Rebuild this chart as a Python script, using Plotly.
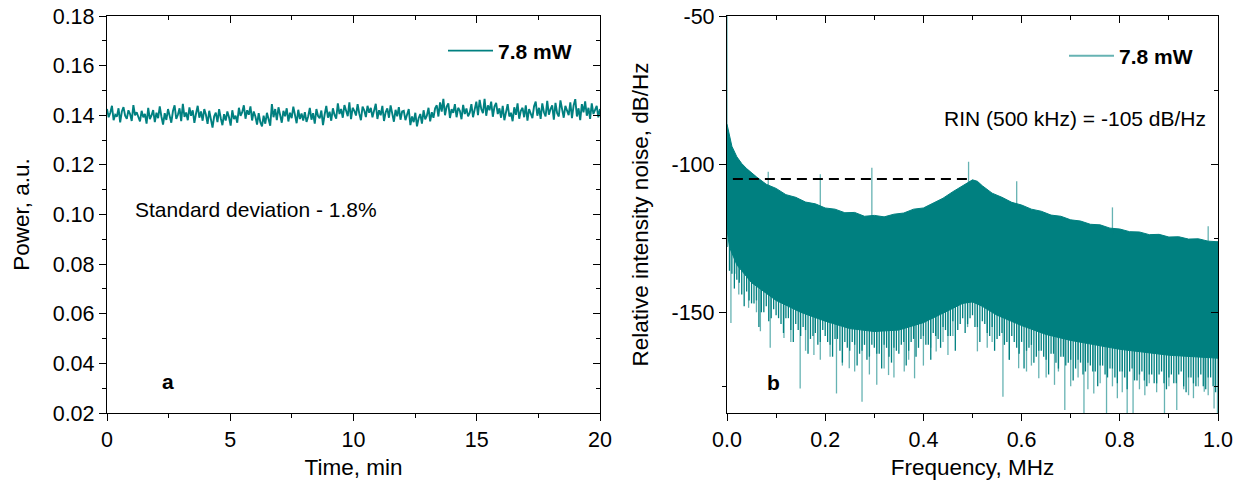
import numpy as np
import plotly.graph_objects as go

# ---------------- data ----------------
power_au = [
    0.1425, 0.1392, 0.1410, 0.1438, 0.1380, 0.1402, 0.1395, 0.1428, 0.1371, 0.1415, 0.1433, 0.1398, 0.1386, 0.1420, 0.1405, 0.1377, 0.1441, 0.1400, 0.1412, 0.1388,
    0.1375, 0.1418, 0.1392, 0.1405, 0.1366, 0.1430, 0.1384, 0.1399, 0.1421, 0.1372, 0.1410, 0.1388, 0.1436, 0.1395, 0.1362, 0.1408, 0.1381, 0.1425, 0.1393, 0.1370,
    0.1417, 0.1440, 0.1385, 0.1402, 0.1428, 0.1376, 0.1446, 0.1393, 0.1411, 0.1380, 0.1432, 0.1398, 0.1420, 0.1369, 0.1407, 0.1438, 0.1390, 0.1415, 0.1378, 0.1425,
    0.1402, 0.1365, 0.1418, 0.1384, 0.1350, 0.1396, 0.1410, 0.1372, 0.1425, 0.1388, 0.1360, 0.1404, 0.1379, 0.1415, 0.1392, 0.1358, 0.1420, 0.1385, 0.1398, 0.1370,
    0.1430, 0.1398, 0.1412, 0.1440, 0.1386, 0.1420, 0.1402, 0.1436, 0.1379, 0.1415, 0.1395, 0.1362, 0.1408, 0.1372, 0.1355, 0.1398, 0.1366, 0.1410, 0.1380, 0.1358,
    0.1445, 0.1392, 0.1425, 0.1380, 0.1432, 0.1405, 0.1370, 0.1418, 0.1396, 0.1428, 0.1375, 0.1410, 0.1388, 0.1435, 0.1399, 0.1368, 0.1422, 0.1385, 0.1407, 0.1379,
    0.1412, 0.1373, 0.1395, 0.1430, 0.1382, 0.1408, 0.1366, 0.1425, 0.1397, 0.1388, 0.1419, 0.1360, 0.1403, 0.1438, 0.1390, 0.1414, 0.1378, 0.1428, 0.1401, 0.1386,
    0.1448, 0.1405, 0.1425, 0.1390, 0.1441, 0.1412, 0.1396, 0.1452, 0.1384, 0.1430, 0.1418, 0.1399, 0.1445, 0.1407, 0.1380, 0.1435, 0.1420, 0.1393, 0.1438, 0.1410,
    0.1430, 0.1392, 0.1415, 0.1446, 0.1385, 0.1420, 0.1400, 0.1438, 0.1377, 0.1412, 0.1428, 0.1390, 0.1440, 0.1405, 0.1374, 0.1422, 0.1396, 0.1433, 0.1382, 0.1415,
    0.1418, 0.1380, 0.1402, 0.1425, 0.1360, 0.1395, 0.1372, 0.1410, 0.1355, 0.1388, 0.1405, 0.1366, 0.1420, 0.1384, 0.1398, 0.1430, 0.1375, 0.1412, 0.1390, 0.1428,
    0.1440, 0.1395, 0.1452, 0.1415, 0.1466, 0.1400, 0.1435, 0.1448, 0.1389, 0.1425, 0.1410, 0.1445, 0.1392, 0.1430, 0.1418, 0.1384, 0.1442, 0.1405, 0.1427, 0.1396,
    0.1410, 0.1445, 0.1392, 0.1430, 0.1455, 0.1400, 0.1462, 0.1425, 0.1408, 0.1466, 0.1398, 0.1440, 0.1420, 0.1455, 0.1394, 0.1435, 0.1450, 0.1405, 0.1428, 0.1390,
    0.1438, 0.1380, 0.1420, 0.1445, 0.1395, 0.1410, 0.1376, 0.1432, 0.1402, 0.1448, 0.1386, 0.1418, 0.1430, 0.1392, 0.1440, 0.1378, 0.1425, 0.1405, 0.1388, 0.1436,
    0.1455, 0.1398, 0.1430, 0.1385, 0.1448, 0.1412, 0.1395, 0.1458, 0.1402, 0.1425, 0.1440, 0.1382, 0.1450, 0.1408, 0.1395, 0.1460, 0.1415, 0.1390, 0.1438, 0.1420,
    0.1400, 0.1452, 0.1388, 0.1440, 0.1465, 0.1395, 0.1428, 0.1380, 0.1445, 0.1412, 0.1456, 0.1398, 0.1430, 0.1385, 0.1448, 0.1405, 0.1420, 0.1438, 0.1392, 0.1425,
]
time_min = np.linspace(0, 20, len(power_au))

# RIN spectrum: upper edge of the dense noise band
rin_upper_f = [0.0, 0.004, 0.01, 0.02, 0.03, 0.04, 0.05, 0.06, 0.08, 0.10, 0.12, 0.14, 0.16, 0.18, 0.20, 0.22, 0.24,
               0.26, 0.28, 0.30, 0.32, 0.34, 0.36, 0.38, 0.40, 0.42, 0.44, 0.46, 0.48, 0.50, 0.51, 0.52, 0.54,
               0.56, 0.58, 0.60, 0.62, 0.64, 0.66, 0.68, 0.70, 0.72, 0.74, 0.76, 0.78, 0.80, 0.82, 0.84, 0.86,
               0.88, 0.90, 0.92, 0.94, 0.96, 0.98, 1.0]
rin_upper_db = [-86.5, -90, -94, -97.5, -99.8, -101.5, -103, -104.3, -106.8, -108.2, -110.3, -111.2, -112.8, -113.4, -114.8, -115.2, -116.4,
                -116.3, -117.6, -117.3, -117.8, -116.9, -116.5, -115.2, -114.8, -113.2, -111.5, -109.3, -107.2, -105.3, -105.8, -107.3, -109.8,
                -111.2, -112.9, -113.8, -115.2, -115.9, -117.2, -117.6, -118.8, -119.2, -120.3, -120.5, -121.6, -121.9, -122.8, -122.9, -123.8,
                -123.7, -124.6, -124.5, -125.3, -125.2, -126, -126.2]
# solid lower edge of the band
rin_lower_f = [0.0, 0.005, 0.02, 0.05, 0.1, 0.15, 0.2, 0.25, 0.3, 0.35, 0.4, 0.45, 0.48, 0.5, 0.52,
               0.55, 0.6, 0.65, 0.7, 0.75, 0.8, 0.85, 0.9, 0.95, 1.0]
rin_lower_db = [-122, -128, -134, -140, -146, -150, -153, -155.5, -156.5, -156, -153.5, -149.5, -147, -146.5, -148,
                -151, -154.5, -157.5, -159.5, -161, -162.5, -163.5, -164.5, -165, -165.5]

# ragged bottom of the band, first set (one dip every 0.01 MHz starting at 0.005)
ragged_f = np.arange(0.005, 1.0, 0.01)
ragged_db = [-136, -142, -140, -148, -146, -147, -155, -150, -153, -149,
             -152, -157, -152, -160, -156, -155, -164, -158, -161, -156,
             -160, -165, -159, -167, -162, -160, -168, -163, -166, -161,
             -164, -169, -162, -167, -163, -161, -168, -160, -165, -159,
             -161, -166, -158, -162, -156, -158, -163, -154, -157, -152,
             -155, -160, -154, -158, -163, -158, -161, -166, -160, -164,
             -169, -162, -167, -163, -165, -171, -164, -169, -165, -167,
             -173, -166, -171, -167, -170, -175, -168, -172, -169, -174,
             -170, -176, -169, -173, -170, -175, -171, -174, -170, -176,
             -171, -174, -170, -177, -172, -175, -171, -176, -172, -177]
# ragged bottom, second set (one dip every 0.01 MHz starting at 0.0)
ragged2_f = np.arange(0.0, 1.0, 0.01)
ragged2_db = [-128, -137, -139, -144, -143, -147, -146, -150, -148, -152,
              -151, -154, -152, -156, -154, -158, -156, -159, -157, -160,
              -158, -161, -159, -163, -160, -163, -161, -164, -161, -165,
              -162, -164, -161, -165, -162, -164, -160, -163, -159, -162,
              -158, -161, -157, -159, -155, -158, -153, -156, -152, -154,
              -151, -155, -153, -157, -155, -159, -157, -160, -158, -162,
              -160, -163, -161, -165, -163, -166, -164, -167, -165, -168,
              -166, -169, -167, -170, -168, -170, -168, -171, -169, -172,
              -170, -172, -170, -173, -171, -173, -171, -174, -171, -174,
              -172, -174, -171, -175, -172, -174, -172, -175, -172, -175]

# narrow peaks rising above the band
peak_f = [0.0, 0.084, 0.19, 0.295, 0.492, 0.59, 0.785, 0.98]
peak_db = [-50, -102.6, -103.4, -101.2, -99.2, -105.8, -114.6, -121]

# deepest dips below the band
dip_f = [0.008, 0.016, 0.024, 0.044, 0.06, 0.068, 0.088, 0.116, 0.13, 0.149, 0.16, 0.177, 0.19, 0.21, 0.223,
         0.235, 0.249, 0.26, 0.275, 0.29, 0.305, 0.32, 0.329, 0.34, 0.361, 0.37, 0.382, 0.4, 0.415, 0.426,
         0.44, 0.45, 0.46, 0.49, 0.51, 0.53, 0.54, 0.562, 0.575, 0.594, 0.61, 0.62, 0.635, 0.65, 0.667,
         0.675, 0.688, 0.7, 0.715, 0.727, 0.735, 0.747, 0.76, 0.773, 0.785, 0.795, 0.805, 0.815, 0.827,
         0.84, 0.851, 0.86, 0.875, 0.891, 0.9, 0.916, 0.93, 0.94, 0.95, 0.96, 0.972, 0.98, 0.992, 0.999]
dip_db = [-153.6, -137, -144, -148.5, -150, -156.4, -162, -158.7, -160, -175.7, -163, -164.4, -166, -165, -177.4,
          -168, -168.9, -170, -180.2, -171, -174.5, -169, -171.2, -172, -170, -166, -172.3, -168, -162, -163.2,
          -160, -164.4, -158, -155, -163.2, -162, -160, -178.5, -166, -168.9, -170, -168, -172.3, -172, -174.5,
          -170, -183, -175, -172, -185, -176, -177.4, -174, -185, -175, -179, -177, -185, -185,
          -176, -178, -174, -177, -185, -175, -183, -176, -178, -179, -175, -176.8, -178, -182.5, -185]

rin_level_f = [0.012, 0.49]
rin_level_db = [-105, -105]

# ---------------- style ----------------
TEAL = "#008080"
TEAL_LIGHT = "rgba(0,128,128,0.6)"
FONT = "Liberation Sans, Arial, sans-serif"
W, H = 1241, 488
ML, MR, MT, MB = 0, 0, 16, 488 - 413

fig = go.Figure()

# left panel
fig.add_trace(go.Scatter(x=time_min, y=power_au, mode="lines",
                         line=dict(color=TEAL, width=1.9),
                         name="<b>7.8 mW</b>", legend="legend",
                         xaxis="x", yaxis="y"))


def spikes(fs, vs, start_f, start_v, shift):
    """Vertical spike segments from the band edge to each value."""
    xs, ys = [], []
    starts = np.interp(fs, start_f, start_v)
    for f, v, s in zip(fs, vs, starts):
        xs += [f, f, None]
        ys += [s + shift, v, None]
    return xs, ys


# right panel: deep light dips (drawn first)
dx, dy = spikes(dip_f, dip_db, rin_lower_f, rin_lower_db, 4)
fig.add_trace(go.Scatter(x=dx, y=dy, mode="lines", line=dict(color=TEAL_LIGHT, width=1.3),
                         showlegend=False, hoverinfo="skip", xaxis="x2", yaxis="y2"))

# dense band
band_x = list(rin_upper_f) + list(rin_lower_f)[::-1]
band_y = list(rin_upper_db) + list(rin_lower_db)[::-1]
fig.add_trace(go.Scatter(x=band_x, y=band_y, mode="lines", fill="toself",
                         fillcolor=TEAL, line=dict(color=TEAL, width=1),
                         showlegend=False, hoverinfo="skip",
                         xaxis="x2", yaxis="y2"))

# ragged dark dips
for rf, rv in ((ragged_f, ragged_db), (ragged2_f, ragged2_db)):
    rx, ry = spikes(rf, rv, rin_lower_f, rin_lower_db, 4)
    fig.add_trace(go.Scatter(x=rx, y=ry, mode="lines", line=dict(color=TEAL, width=1.3),
                             showlegend=False, hoverinfo="skip", xaxis="x2", yaxis="y2"))

# peaks
px, py = spikes(peak_f, peak_db, rin_upper_f, rin_upper_db, -2)
fig.add_trace(go.Scatter(x=px, y=py, mode="lines", line=dict(color=TEAL_LIGHT, width=1.3),
                         showlegend=False, hoverinfo="skip", xaxis="x2", yaxis="y2"))

# legend entry for right panel
fig.add_trace(go.Scatter(x=[None], y=[None], mode="lines", line=dict(color=TEAL_LIGHT, width=2),
                         name="<b>7.8 mW</b>", legend="legend2", xaxis="x2", yaxis="y2"))

# dashed RIN level
fig.add_trace(go.Scatter(x=rin_level_f, y=rin_level_db, mode="lines",
                         line=dict(color="black", width=2, dash="10px,6px"),
                         showlegend=False, hoverinfo="skip", xaxis="x2", yaxis="y2"))

# dummy traces for the inner-tick overlay axes
fig.add_trace(go.Scatter(x=[None], y=[None], xaxis="x3", yaxis="y3", showlegend=False))
fig.add_trace(go.Scatter(x=[None], y=[None], xaxis="x4", yaxis="y4", showlegend=False))

dom_l = [107 / W, 600 / W]
dom_r = [727 / W, 1218 / W]
tickfont = dict(family=FONT, size=21.5, color="black")
titlefont = dict(family=FONT, size=22.5, color="black")

y1_ticks = [0.02, 0.04, 0.06, 0.08, 0.10, 0.12, 0.14, 0.16, 0.18]
y2_ticks = [-50, -100, -150]


def base_axis(**kw):
    d = dict(showgrid=False, zeroline=False, showline=True, linecolor="black", linewidth=1.3,
             ticks="outside", ticklen=7, tickwidth=1.3, tickcolor="black",
             tickfont=tickfont, mirror=True, automargin=False, ticklabeloverflow="allow")
    d.update(kw)
    return d


def inner_axis(**kw):
    d = dict(showgrid=False, zeroline=False, showline=True, linecolor="black", linewidth=1.3,
             showticklabels=False,
             ticks="inside", ticklen=7, tickwidth=1.3, tickcolor="black", automargin=False)
    d.update(kw)
    return d


fig.update_layout(
    width=W, height=H, margin=dict(l=ML, r=MR, t=MT, b=MB),
    paper_bgcolor="white", plot_bgcolor="white",
    font=dict(family=FONT, color="black"),
    xaxis=base_axis(domain=dom_l, range=[0, 20], tickvals=[0, 5, 10, 15, 20],
                    minor=dict(ticks="outside", ticklen=4, dtick=2.5, tick0=0, tickcolor="black", tickwidth=1.3),
                    title=dict(text="Time, min", font=titlefont, standoff=8), anchor="y"),
    yaxis=base_axis(domain=[0, 1], range=[0.02, 0.18], tickvals=y1_ticks,
                    ticktext=[f"{v:.2f}" for v in y1_ticks],
                    minor=dict(ticks="outside", ticklen=4, dtick=0.01, tick0=0.02, tickcolor="black", tickwidth=1.3),
                    title=dict(text="Power, a.u.", font=titlefont, standoff=16), anchor="x"),
    xaxis2=base_axis(domain=dom_r, range=[0, 1], tickvals=[0, 0.2, 0.4, 0.6, 0.8, 1.0], tickformat=".1f",
                     minor=dict(ticks="outside", ticklen=4, dtick=0.1, tick0=0, tickcolor="black", tickwidth=1.3),
                     title=dict(text="Frequency, MHz", font=titlefont, standoff=8), anchor="y2"),
    yaxis2=base_axis(domain=[0, 1], range=[-184, -50], tickvals=y2_ticks,
                     ticktext=[str(v) for v in y2_ticks],
                     minor=dict(ticks="outside", ticklen=4, dtick=25, tick0=-50, tickcolor="black", tickwidth=1.3),
                     title=dict(text="Relative intensity noise, dB/Hz", font=titlefont, standoff=16), anchor="x2"),
    xaxis3=inner_axis(overlaying="x", side="top", anchor="y", range=[0, 20], tickvals=[0, 5, 10, 15, 20],
                      minor=dict(ticks="inside", ticklen=4, dtick=2.5, tick0=0, tickcolor="black", tickwidth=1.3)),
    yaxis3=inner_axis(overlaying="y", side="right", anchor="x", range=[0.02, 0.18], tickvals=y1_ticks,
                      minor=dict(ticks="inside", ticklen=4, dtick=0.01, tick0=0.02, tickcolor="black", tickwidth=1.3)),
    xaxis4=inner_axis(overlaying="x2", side="top", anchor="y2", range=[0, 1], tickvals=[0, 0.2, 0.4, 0.6, 0.8, 1.0],
                      minor=dict(ticks="inside", ticklen=4, dtick=0.1, tick0=0, tickcolor="black", tickwidth=1.3)),
    yaxis4=inner_axis(overlaying="y2", side="right", anchor="x2", range=[-184, -50], tickvals=y2_ticks,
                      minor=dict(ticks="inside", ticklen=4, dtick=25, tick0=-50, tickcolor="black", tickwidth=1.3)),
    legend=dict(x=443 / W, y=(413 - 51) / 397, xanchor="left", yanchor="middle",
                bgcolor="rgba(0,0,0,0)", font=dict(family=FONT, size=21, color="black"), itemwidth=45),
    legend2=dict(x=1064 / W, y=(413 - 56) / 397, xanchor="left", yanchor="middle",
                 bgcolor="rgba(0,0,0,0)", font=dict(family=FONT, size=21, color="black"), itemwidth=45),
    showlegend=True,
)

ann_font = dict(family=FONT, size=21, color="black")
fig.add_annotation(x=1.05, y=0.1022, xref="x", yref="y", text="Standard deviation - 1.8%",
                   showarrow=False, xanchor="left", yanchor="middle", font=ann_font)
fig.add_annotation(x=2.47, y=0.0325, xref="x", yref="y", text="<b>a</b>",
                   showarrow=False, xanchor="center", yanchor="middle", font=ann_font)
fig.add_annotation(x=0.438, y=-84.5, xref="x2", yref="y2", text="RIN (500 kHz) = -105 dB/Hz",
                   showarrow=False, xanchor="left", yanchor="middle", font=ann_font)
fig.add_annotation(x=0.094, y=-173.6, xref="x2", yref="y2", text="<b>b</b>",
                   showarrow=False, xanchor="center", yanchor="middle", font=ann_font)

# remove the browser's default page margin so the figure starts at the window corner
fig.write_html("out.html", config={"displayModeBar": False},
               post_script="document.body.style.margin='0';")
